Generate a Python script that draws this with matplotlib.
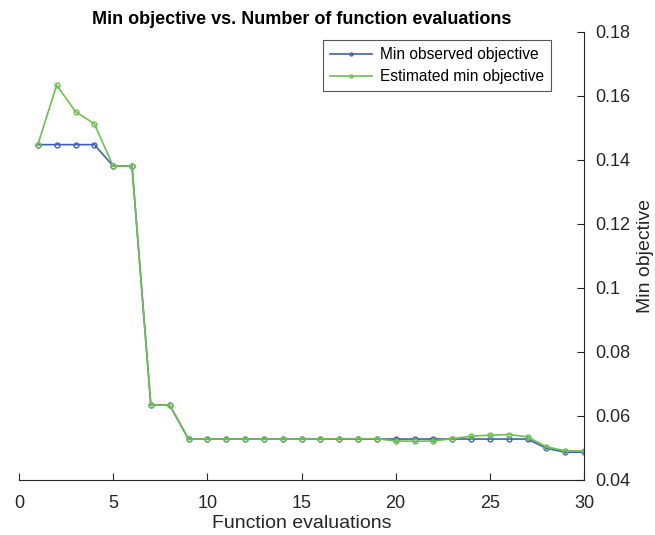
import matplotlib
matplotlib.use("Agg")
from matplotlib import pyplot as plt
import numpy as np

evals = np.arange(1, 31)
min_observed = [0.1448, 0.1448, 0.1448, 0.1448, 0.1381, 0.1381, 0.0634, 0.0634,
                0.0528, 0.0528, 0.0528, 0.0528, 0.0528, 0.0528, 0.0528, 0.0528,
                0.0528, 0.0528, 0.0528, 0.0528, 0.0528, 0.0528, 0.0528, 0.0528,
                0.0528, 0.0528, 0.0528, 0.0499, 0.0487, 0.0487]
est_min = [0.1448, 0.1634, 0.1551, 0.1513, 0.1381, 0.1381, 0.0634, 0.0634,
           0.0528, 0.0528, 0.0528, 0.0528, 0.0528, 0.0528, 0.0528, 0.0528,
           0.0529, 0.0529, 0.0529, 0.0522, 0.0521, 0.0522, 0.0529, 0.0537,
           0.0540, 0.0542, 0.0535, 0.0504, 0.0491, 0.0491]

plt.rcParams['font.family'] = ['Liberation Sans', 'DejaVu Sans']
ink = '#262626'

fig = plt.figure(figsize=(6.55, 5.35), dpi=100)
ax = fig.add_axes([19 / 655, 1 - 480 / 535, 565 / 655, 448 / 535])

ax.plot(evals, min_observed, color='#4060b0', marker='o', markersize=3.5,
        markerfacecolor='none', markeredgewidth=1.0,
        linewidth=1.2, label='Min observed objective')
ax.plot(evals, est_min, color='#6cc24a', marker='o', markersize=3.5,
        markerfacecolor='none', markeredgewidth=1.0,
        linewidth=1.2, label='Estimated min objective')

ax.set_xlim(0, 30)
ax.set_ylim(0.04, 0.18)
ax.set_xticks([0, 5, 10, 15, 20, 25, 30])
ax.set_yticks(np.arange(0.04, 0.181, 0.02))
ax.set_yticklabels(['0.04', '0.06', '0.08', '0.1', '0.12', '0.14', '0.16', '0.18'])

ax.yaxis.tick_right()
ax.yaxis.set_label_position('right')
ax.spines['top'].set_visible(False)
ax.spines['left'].set_visible(False)
for s in ('bottom', 'right'):
    ax.spines[s].set_color(ink)
    ax.spines[s].set_linewidth(0.8)
ax.tick_params(direction='in', length=5, width=0.8, colors=ink, labelsize=13)
ax.tick_params(axis='x', pad=11)
ax.tick_params(axis='y', pad=8)

ax.set_xlabel('Function evaluations', fontsize=14, color=ink, labelpad=2)
ax.set_ylabel('Min objective', fontsize=14, color=ink, labelpad=5)
ax.set_title('Min objective vs. Number of function evaluations',
             fontsize=13, fontweight='bold', color='black', pad=6)

leg = ax.legend(loc='upper right', bbox_to_anchor=(0.9416, 0.982), fontsize=11.2,
                fancybox=False, framealpha=1, edgecolor='#555555', handlelength=2.7,
                borderpad=0.45, labelspacing=0.45, handletextpad=0.5,
                borderaxespad=0, markerscale=0.6)
leg.get_frame().set_linewidth(0.8)

fig.savefig('out.png', dpi=100)
